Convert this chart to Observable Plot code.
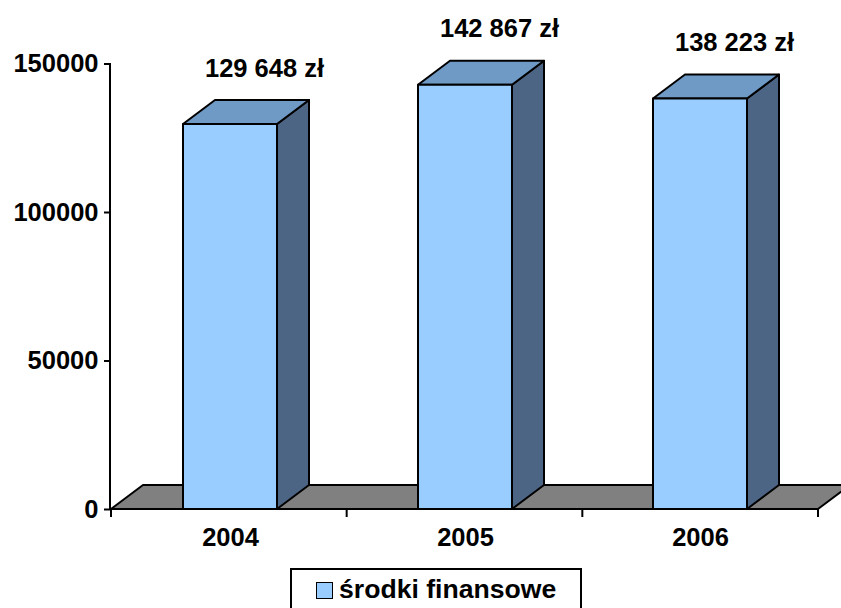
<!DOCTYPE html>
<html>
<head>
<meta charset="utf-8">
<script src="https://cdn.jsdelivr.net/npm/d3@7"></script>
<script src="https://cdn.jsdelivr.net/npm/@observablehq/plot@0.6"></script>
<style>
  body { margin: 0; background: #fff; font-family: "Liberation Sans", Arial, sans-serif; }
  #wrap { position: relative; width: 841px; height: 608px; overflow: hidden; background: #fff; }
  #legend { position: absolute; left: 290px; top: 568px; width: 292px; height: 52px; border: 2px solid #000; box-sizing: border-box; background: #fff; }
  #legend .sw { position: absolute; left: 24px; top: 12px; width: 17px; height: 17px; box-sizing: border-box; border: 1.5px solid #000; background: #99CCFF; }
  #legend .lb { position: absolute; left: 47px; top: 6px; font-size: 26.6px; line-height: 26px; font-weight: bold; color: #000; white-space: nowrap; }
</style>
</head>
<body>
<div id="wrap"><div id="chart"></div><div id="legend"><div class="sw"></div><div class="lb"></div></div></div>
<script>
// ---- data ----
const years = ["2004", "2005", "2006"];
const values = [129648, 142867, 138223];
const valueLabels = ["129 648 zł", "142 867 zł", "138 223 zł"];
const yTicks = [0, 50000, 100000, 150000];
const seriesName = "środki finansowe";

const data = years.map((year, i) => ({year, value: values[i], label: valueLabels[i]}));

const colors = {front: "#99CCFF", top: "#6F9AC6", side: "#4D6585", floor: "#808080"};
const depthX = 32, depthY = -24;

function bars3d(index, scales) {
  const {x, y} = scales;
  const g = d3.create("svg:g").attr("stroke", "#000").attr("stroke-width", 2).attr("stroke-linejoin", "round");
  const [r0, r1] = x.range();
  const n = x.domain().length;
  const step = (r1 - r0) / n;
  const bw = x.bandwidth();
  const y0 = y(0);
  const yTop = y(yTicks[yTicks.length - 1]);
  // floor
  g.append("path")
    .attr("d", `M${r0},${y0}L${r0 + depthX},${y0 + depthY}L${r1 + depthX},${y0 + depthY}L${r1},${y0}Z`)
    .attr("fill", colors.floor);
  // value axis line
  g.append("line").attr("x1", r0 - 1).attr("x2", r0 - 1).attr("y1", yTop).attr("y2", y0);
  // category boundary ticks
  for (let i = 0; i <= n; ++i) {
    const xx = r0 + i * step;
    g.append("line").attr("x1", xx).attr("x2", xx).attr("y1", y0).attr("y2", y0 + 8);
  }
  // bars
  for (const d of data) {
    const xl = x(d.year), yt = y(d.value);
    g.append("path")
      .attr("d", `M${xl + bw},${yt}L${xl + bw + depthX},${yt + depthY}L${xl + bw + depthX},${y0 + depthY}L${xl + bw},${y0}Z`)
      .attr("fill", colors.side);
    g.append("path")
      .attr("d", `M${xl},${yt}L${xl + depthX},${yt + depthY}L${xl + bw + depthX},${yt + depthY}L${xl + bw},${yt}Z`)
      .attr("fill", colors.top);
    g.append("rect")
      .attr("x", xl).attr("y", yt).attr("width", bw).attr("height", y0 - yt)
      .attr("fill", colors.front);
  }
  // floor front edge
  g.append("line").attr("x1", r0).attr("x2", r1).attr("y1", y0).attr("y2", y0);
  return g.node();
}

const chart = Plot.plot({
  width: 841,
  height: 560,
  marginLeft: 111,
  marginRight: 23,
  marginTop: 63.5,
  marginBottom: 51,
  style: {fontFamily: '"Liberation Sans", Arial, sans-serif', fontSize: "25.5px", fontWeight: "bold", color: "#000", background: "#fff", overflow: "hidden"},
  x: {type: "band", domain: years, paddingInner: 0.6, paddingOuter: 0.3, label: null},
  y: {domain: [0, 150000], label: null},
  marks: [
    bars3d,
    Plot.axisY({ticks: yTicks, tickSize: 7, tickPadding: 6, tickFormat: d => String(d), strokeWidth: 2, label: null}),
    Plot.axisX({tickSize: 0, tickPadding: 18, label: null}),
    Plot.text(data, {x: "year", y: "value", text: "label", dx: 34, dy: -56, fontSize: 25.5, fontWeight: "bold", fill: "#000"})
  ]
});
document.getElementById("chart").appendChild(chart);
document.querySelector("#legend .lb").textContent = seriesName;
</script>
</body>
</html>
